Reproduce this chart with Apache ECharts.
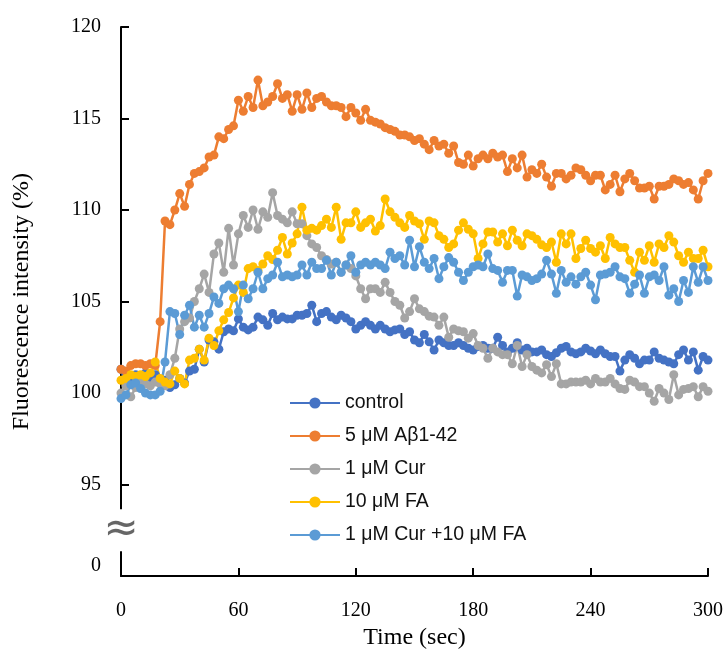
<!DOCTYPE html>
<html>
<head>
<meta charset="utf-8">
<script src="https://cdn.jsdelivr.net/npm/echarts@6/dist/echarts.min.js"></script>
<style>
    html, body { margin: 0; padding: 0; background: #fff; }
    #main { width: 726px; height: 655px; }
</style>
</head>
<body>
<div id="main"></div>
<script>
// sampling step of the recording (sec)
var step = 2.5;

var seriesNames = ['control', '5 μM Aβ1-42', '1 μM Cur', '10 μM FA', '1 μM Cur +10 μM FA'];
var colors = ['#4472C4', '#ED7D31', '#A5A5A5', '#FFC000', '#5B9BD5'];

var control = [
    101.3, 101.0, 100.8, 101.0, 100.9, 101.1, 100.8, 101.0, 100.6, 100.7, 100.3, 100.45,
    100.8, 100.55, 101.2, 101.3, 102.4, 101.7, 102.9, 102.8, 102.4, 103.35, 103.5, 103.4,
    104.05, 103.6, 103.45, 103.6, 104.15, 104.0, 103.7, 104.35, 104.0, 104.15, 104.05, 104.05,
    104.25, 104.25, 104.35, 104.8, 103.9, 104.35, 104.45, 104.15, 104.0, 104.25, 104.1, 103.9,
    103.5, 103.7, 103.9, 103.7, 103.5, 103.7, 103.5, 103.35, 103.45, 103.5, 103.2, 103.35,
    102.9, 102.75, 103.2, 102.8, 102.35, 102.9, 102.75, 102.6, 102.6, 102.75, 102.6, 102.45,
    102.35, 102.55, 102.6, 102.45, 102.45, 103.05, 102.6, 102.25, 102.45, 102.75, 102.35, 102.45,
    102.25, 102.25, 102.35, 102.1, 102.0, 102.2, 102.45, 102.55, 102.25, 102.15, 102.25, 102.45,
    102.3, 102.15, 102.35, 102.15, 102.0, 102.0, 101.2, 101.8, 102.1, 101.9, 101.6, 101.8,
    101.8, 102.25, 101.9, 101.8, 101.7, 101.6, 102.1, 102.35, 101.8, 102.25, 101.25, 102.0,
    101.8
];
var abeta = [
    101.3, 101.2, 101.5, 101.6, 101.6, 101.5, 101.6, 101.5, 103.9, 109.4, 109.2, 110.0,
    110.9, 110.2, 111.4, 112.0, 112.1, 112.3, 112.9, 113.0, 114.0, 113.9, 114.4, 114.6,
    116.0, 115.4, 116.2, 115.6, 117.1, 115.7, 115.9, 116.2, 116.9, 116.1, 116.3, 115.4,
    116.3, 115.5, 116.4, 115.6, 116.1, 116.2, 115.9, 115.7, 115.7, 115.6, 115.1, 115.6,
    115.3, 114.9, 115.5, 114.9, 114.8, 114.7, 114.5, 114.4, 114.3, 114.1, 114.1, 114.0,
    113.8, 113.9, 113.6, 113.3, 113.8, 113.5, 113.6, 113.1, 113.5, 112.6, 112.5, 113.0,
    112.4, 112.8, 113.0, 112.8, 113.1, 112.9, 113.0, 112.1, 112.8, 112.3, 113.0, 111.8,
    112.2, 112.0, 112.5, 111.8, 111.3, 112.0, 112.0, 111.7, 111.9, 112.3, 112.2, 111.9,
    111.6, 111.9, 111.9, 111.1, 111.4, 111.9, 111.0, 111.7, 112.0, 111.6, 111.2, 111.2,
    111.3, 110.6, 111.3, 111.3, 111.4, 111.7, 111.6, 111.4, 111.5, 111.1, 110.6, 111.6,
    112.0
];
var cur = [
    100.0, 100.4, 99.8, 100.3, 100.6, 100.5, 100.4, 100.6, 100.5, 100.4, 101.0, 101.9,
    103.5, 103.9, 104.1, 105.0, 105.7, 106.5, 105.5, 107.6, 108.2, 106.6, 109.0, 107.0,
    108.7, 109.7, 109.05, 110.0, 108.95, 109.9, 109.6, 110.95, 109.7, 109.5, 109.3, 109.9,
    109.25, 109.25, 108.6, 108.15, 107.95, 107.5, 107.3, 107.05, 107.15, 106.6, 107.0, 106.8,
    106.4, 105.7, 105.15, 105.7, 105.7, 105.5, 106.05, 105.5, 105.0, 104.8, 104.1, 104.45,
    105.15, 104.6, 104.45, 104.2, 104.15, 103.7, 104.15, 103.05, 103.5, 103.4, 103.35, 103.0,
    103.25, 102.6, 102.45, 101.9, 102.45, 102.25, 102.1, 102.1, 101.6, 102.6, 101.45, 102.1,
    101.45, 101.25, 101.1, 101.55, 100.9, 101.6, 100.5, 100.5, 100.6, 100.6, 100.6, 100.7,
    100.5, 100.8, 100.6, 100.6, 100.8, 100.5, 100.25, 100.2, 100.7, 100.6, 100.35, 100.35,
    100.0, 99.55, 100.25, 100.0, 99.65, 101.0, 99.9, 100.2, 100.25, 100.35, 99.8, 100.35,
    100.1
];
var fa = [
    100.7, 100.8, 101.0, 100.9, 101.0, 100.9, 101.1, 101.7, 100.8, 100.6, 100.5, 101.2,
    100.8, 100.5, 101.8, 101.9, 102.4, 101.8, 103.0, 102.6, 103.4, 104.0, 104.4, 105.2,
    105.9, 105.5, 106.8, 106.9, 106.7, 107.05, 107.5, 107.3, 107.8, 108.5, 107.6, 108.2,
    108.7, 110.15, 108.9, 109.0, 108.9, 109.15, 109.5, 109.05, 110.15, 108.4, 109.3, 109.3,
    109.9, 109.05, 109.3, 109.5, 108.85, 109.15, 110.6, 109.9, 109.6, 109.3, 109.05, 109.7,
    109.4, 109.25, 108.4, 109.4, 109.3, 108.6, 108.4, 107.95, 108.15, 108.9, 109.3, 108.95,
    108.7, 107.35, 108.15, 108.8, 108.8, 108.25, 108.7, 108.05, 108.9, 108.35, 108.05, 108.7,
    108.6, 108.4, 108.1, 107.95, 108.25, 107.15, 108.7, 108.15, 108.7, 107.35, 107.9, 108.35,
    107.9, 107.7, 108.05, 107.35, 108.5, 108.15, 107.95, 107.95, 107.25, 106.6, 107.7, 107.25,
    108.05, 107.15, 108.15, 107.95, 108.6, 108.25, 107.5, 107.15, 107.7, 107.35, 107.35, 107.8,
    106.9
];
var curFa = [
    99.7, 99.9, 100.45, 100.55, 100.25, 100.0, 99.9, 99.9, 100.1, 101.7, 104.45, 104.35,
    103.2, 104.25, 104.8, 103.6, 104.25, 103.6, 104.35, 105.25, 104.9, 105.7, 105.9, 105.7,
    104.45, 105.9, 105.15, 105.7, 106.6, 105.7, 106.25, 106.45, 107.15, 106.35, 106.45, 106.35,
    106.45, 107.0, 106.45, 107.15, 106.8, 106.8, 107.25, 106.45, 107.15, 106.6, 107.0, 107.5,
    106.6, 107.0, 107.15, 107.0, 107.15, 107.0, 106.8, 107.7, 107.35, 107.5, 107.0, 108.35,
    106.9, 108.0, 107.15, 106.8, 107.35, 106.25, 106.9, 107.4, 107.15, 106.6, 106.15, 106.6,
    106.9, 107.0, 106.9, 107.6, 106.8, 106.7, 106.05, 106.7, 106.7, 105.3, 106.45, 106.35,
    106.15, 106.25, 106.5, 107.25, 106.5, 105.45, 106.7, 106.05, 106.35, 105.95, 106.35, 106.6,
    105.9, 105.1, 106.45, 106.5, 106.6, 106.9, 106.35, 106.25, 105.45, 105.95, 106.45, 105.45,
    106.35, 106.45, 106.15, 106.9, 105.35, 105.7, 105.0, 106.15, 105.5, 106.9, 106.05, 106.9,
    106.15
];

var allValues = [control, abeta, cur, fa, curFa];

// y axis is broken: the bottom tick (90 on the scale) is labelled 0
var yBottom = 90;
var yBreakAt = 92.5;

var serif = 'Liberation Serif';
var sans = 'Liberation Sans';

var chart = echarts.init(document.getElementById('main'));

function toPairs(vals) {
    return vals.map(function (v, i) { return [i * step, v]; });
}

chart.setOption({
    animation: false,
    backgroundColor: '#fff',
    grid: { left: 121, right: 18, top: 27, bottom: 77 },
    legend: {
        orient: 'vertical',
        left: 284,
        top: 388,
        itemWidth: 50,
        itemHeight: 14,
        itemGap: 13,
        textStyle: { fontFamily: sans, fontSize: 19.5, color: '#111' },
        data: seriesNames
    },
    xAxis: {
        type: 'value',
        min: 0,
        max: 300,
        interval: 60,
        name: 'Time (sec)',
        nameLocation: 'middle',
        nameGap: 48,
        nameTextStyle: { fontFamily: serif, fontSize: 24, color: '#000' },
        axisLine: { lineStyle: { color: '#000', width: 2 } },
        axisTick: { inside: true, length: 8, lineStyle: { color: '#000', width: 2 } },
        axisLabel: { margin: 25, fontFamily: serif, fontSize: 20, color: '#000' },
        splitLine: { show: false }
    },
    yAxis: {
        type: 'value',
        min: yBottom,
        max: 120,
        interval: 5,
        name: 'Fluorescence intensity (%)',
        nameLocation: 'middle',
        nameGap: 87,
        nameTextStyle: { fontFamily: serif, fontSize: 24, color: '#000' },
        axisLine: { show: true, lineStyle: { color: '#000', width: 2 } },
        axisTick: { inside: true, length: 8, lineStyle: { color: '#000', width: 2 } },
        axisLabel: {
            margin: 20,
            fontFamily: serif,
            fontSize: 20,
            color: '#000',
            formatter: function (v) {
                return v === yBottom ? '{zero|0}' : String(v);
            },
            rich: {
                zero: { fontFamily: serif, fontSize: 20, color: '#000', padding: [0, 0, 20, 0] }
            }
        },
        splitLine: { show: false }
    },
    series: seriesNames.map(function (name, k) {
        return {
            name: name,
            type: 'line',
            data: toPairs(allValues[k]),
            symbol: 'circle',
            symbolSize: 9,
            showSymbol: true,
            color: colors[k],
            lineStyle: { width: 2.5, color: colors[k] },
            itemStyle: { color: colors[k] }
        };
    })
});

// axis break mark
var p = chart.convertToPixel({ gridIndex: 0 }, [0, yBreakAt]);
chart.setOption({
    graphic: [{
        type: 'text',
        x: p[0],
        y: p[1],
        z: 100,
        style: {
            text: '≈',
            fontSize: 42,
            fontFamily: 'DejaVu Sans',
            fill: '#666',
            align: 'center',
            verticalAlign: 'middle',
            backgroundColor: '#fff'
        }
    }]
});

window.onresize = chart.resize;
</script>
</body>
</html>
